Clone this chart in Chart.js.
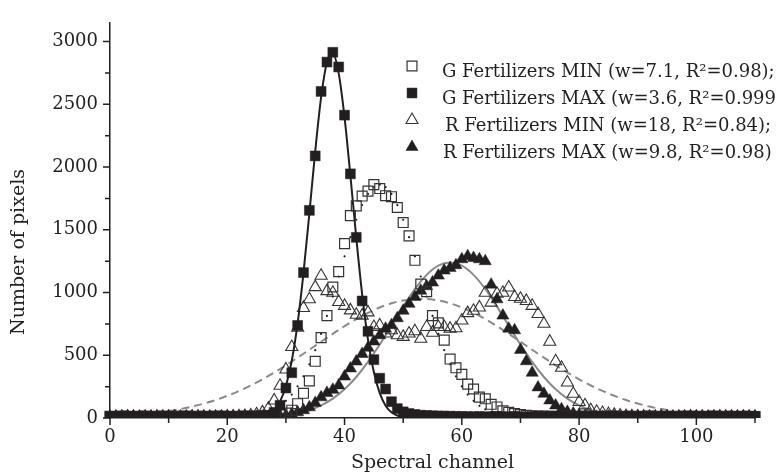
<!DOCTYPE html>
<html>
<head>
<meta charset="utf-8">
<title>Spectral channel histogram</title>
<script src="https://cdn.jsdelivr.net/npm/chart.js@4/dist/chart.umd.min.js"></script>
<style>
  html, body { margin: 0; padding: 0; background: #fff; }
  #chart { display: block; }
</style>
</head>
<body>
<canvas id="chart" width="781" height="475"></canvas>
<script>
// ── Data ──────────────────────────────────────────────────────────────────────
// Pixel counts per spectral channel (0..110)
const channels = Array.from({ length: 111 }, (_, i) => i);

const gMinCounts = [
    14, 12, 15, 13, 12, 14, 16, 12, 13, 15,
    12, 14, 13, 15, 12, 14, 13, 12, 15, 14,
    13, 12, 14, 15, 13, 16, 18, 20, 25, 30,
    40, 62, 114, 197, 296, 452, 641, 816, 1044, 1167,
    1390, 1613, 1691, 1769, 1808, 1860, 1829, 1772, 1764, 1678,
    1558, 1452, 1257, 1068, 1007, 816, 758, 621, 470, 400,
    348, 270, 231, 166, 153, 109, 88, 57, 45, 35,
    28, 22, 18, 16, 15, 14, 13, 12, 14, 13,
    12, 15, 13, 12, 14, 13, 15, 12, 14, 13,
    12, 14, 15, 13, 12, 14, 13, 12, 15, 13,
    14, 12, 13, 15, 12, 14, 13, 12, 14, 13,
    12
];

const gMaxCounts = [
    12, 10, 8, 10, 12, 9, 10, 11, 8, 10,
    12, 10, 9, 11, 10, 8, 10, 12, 9, 10,
    11, 10, 9, 12, 10, 11,
    15, 20, 45, 101, 239, 361, 738, 1159, 1655, 2089,
    2603, 2837, 2915, 2798, 2414, 1946, 1440, 933, 691, 465,
    317, 231, 130, 75, 49, 36, 28, 22, 20, 18,
    16, 15, 14, 13, 12, 11, 10, 12, 9, 10,
    11, 10, 9, 12, 10, 8, 10, 11, 9, 10,
    12, 10, 9, 11, 10, 8, 10, 12, 9, 10,
    11, 10, 9, 12, 10, 11, 10, 8, 10, 12,
    9, 10, 11, 10, 9, 12, 10, 11, 10, 8,
    10, 12, 9, 10, 11
];

const rMinCounts = [
    8, 10, 9, 11, 10, 8, 9, 10, 11, 9,
    10, 9, 8, 10, 11, 9, 10, 8, 9, 10,
    11, 12, 14, 16, 20, 30, 45, 75, 140, 257,
    387, 566, 720, 877, 946, 1043, 1134, 1011, 998, 925,
    894, 858, 823, 816, 842, 725, 738, 673, 699, 660,
    647, 673, 692, 632, 725, 680, 725, 725, 712, 715,
    777, 836, 855, 881, 998, 920, 990, 998, 1040, 965,
    950, 933, 894, 829, 751, 608, 452, 400, 283, 193,
    127, 101, 62, 50, 40, 32, 25, 20, 16, 14,
    12, 11, 10, 9, 11, 10, 8, 10, 9, 11,
    10, 9, 8, 10, 11, 9, 10, 8, 9, 10,
    9
];

const rMaxCounts = [
    10, 8, 9, 10, 11, 9, 10, 8, 10, 9,
    11, 10, 9, 8, 10, 11, 9, 10, 8, 9,
    10, 11, 9, 10, 8, 10, 11, 10, 12, 15,
    20, 30, 45, 62, 85, 120, 165, 200, 225, 260,
    330, 395, 450, 510, 560, 610, 660, 712, 740, 795,
    855, 910, 965, 1015, 1050, 1080, 1135, 1175, 1195, 1218,
    1265, 1290, 1275, 1265, 1250, 1063, 946, 816, 712, 699,
    543, 452, 361, 244, 193, 140, 100, 70, 49, 35,
    23, 15, 12, 10, 9, 11, 10, 8, 9, 10,
    11, 9, 10, 8, 10, 11, 9, 10, 8, 9,
    10, 11, 9, 10, 8, 10, 9, 11, 10, 9,
    10
];

// Gaussian fits, sampled along the channel axis
const gMaxFitChannels = [26, 27, 28, 29, 30, 31, 32, 33, 34, 35, 36, 37, 38, 39,
    40, 41, 42, 43, 44, 45, 46, 47, 48, 49, 50, 52, 55];
const gMaxFitCounts = [11, 27, 62, 131, 255, 456, 756, 1157, 1632, 2125, 2555, 2836, 2905, 2747,
    2397, 1931, 1437, 986, 625, 366, 198, 98, 45, 19, 7, 1, 0];

const gMinFitChannels = [28, 29, 30, 31, 32, 33, 34, 35, 36, 37, 38, 39, 40, 41, 42, 43, 44, 45, 46,
    47, 48, 49, 50, 51, 52, 53, 54, 55, 56, 57, 58, 59, 60, 61, 62, 63, 64, 65, 66];
const gMinFitCounts = [68, 97, 137, 187, 252, 332, 428, 541, 670, 814, 968, 1128, 1289, 1441, 1580, 1697, 1786, 1841, 1860,
    1841, 1786, 1697, 1580, 1441, 1289, 1128, 968, 814, 670, 541, 428, 332, 252, 187, 137, 97, 68, 47, 31];

const rMinFitChannels = [10, 12, 14, 16, 18, 20, 22, 24, 26, 28, 30, 32, 34, 36, 38, 40, 42, 44, 46, 48, 50, 52,
    54, 56, 58, 60, 62, 64, 66, 68, 70, 72, 74, 76, 78, 80, 82, 84, 86, 88, 90, 92, 94, 96];
const rMinFitCounts = [55, 71, 91, 115, 143, 177, 216, 259, 308, 362, 420, 481, 544, 608, 671, 732, 788, 838, 881, 914, 937, 948,
    948, 937, 914, 881, 838, 788, 732, 671, 608, 544, 481, 420, 362, 308, 259, 216, 177, 143, 115, 91, 71, 55];

const rMaxFitChannels = [28, 30, 32, 34, 36, 38, 40, 42, 44, 46, 48, 50, 52, 54, 56, 58,
    60, 62, 64, 66, 68, 70, 72, 74, 76, 78, 80, 82, 84, 86, 88];
const rMaxFitCounts = [11, 21, 37, 62, 100, 155, 229, 327, 447, 586, 737, 888, 1028, 1141, 1214, 1240,
    1214, 1141, 1028, 888, 737, 586, 447, 327, 229, 155, 100, 62, 37, 21, 11];

const legendLabels = [
    "G Fertilizers MIN (w=7.1, R\u00b2=0.98);",
    "G Fertilizers MAX (w=3.6, R\u00b2=0.999",
    "R Fertilizers MIN (w=18, R\u00b2=0.84);",
    "R Fertilizers MAX (w=9.8, R\u00b2=0.98)"
];

const yTickStep = 250;
const xTickStep = 10;

// ── Styling ──────────────────────────────────────────────────────────────────
const INK = "#231f20";
const GREY = "#8a8a8a";
const FONT = "'DejaVu Serif', serif";
const FONT_SIZE = 18;

const toPoints = (xs, ys) => xs.map((x, i) => ({ x, y: ys[i] }));

const markerBase = {
    type: "scatter",
    showLine: false,
    pointRadius: 7,
    pointHoverRadius: 7,
    clip: { left: false, top: false, right: false, bottom: 0 },
};

const datasets = [
    {
        ...markerBase,
        label: legendLabels[1],
        data: toPoints(channels, gMaxCounts),
        pointStyle: "rect",
        backgroundColor: INK,
        borderColor: INK,
        pointBorderWidth: 0.5,
    },
    {
        ...markerBase,
        label: legendLabels[0],
        data: toPoints(channels, gMinCounts),
        pointStyle: "rect",
        backgroundColor: "rgba(0,0,0,0)",
        borderColor: "#333",
        pointBorderWidth: 1.2,
    },
    {
        type: "line",
        label: "G MAX fit",
        data: toPoints(gMaxFitChannels, gMaxFitCounts),
        borderColor: INK,
        borderWidth: 2,
        pointRadius: 0,
        cubicInterpolationMode: "monotone",
        fill: false,
    },
    {
        ...markerBase,
        label: "G MIN fit",
        data: toPoints(gMinFitChannels, gMinFitCounts),
        pointStyle: "circle",
        pointRadius: 1.1,
        backgroundColor: INK,
        borderColor: INK,
        pointBorderWidth: 0,
    },
    {
        ...markerBase,
        label: legendLabels[3],
        data: toPoints(channels, rMaxCounts),
        pointStyle: "triangle",
        backgroundColor: INK,
        borderColor: INK,
        pointBorderWidth: 0.5,
    },
    {
        ...markerBase,
        label: legendLabels[2],
        data: toPoints(channels, rMinCounts),
        pointStyle: "triangle",
        backgroundColor: "rgba(0,0,0,0)",
        borderColor: "#333",
        pointBorderWidth: 1.1,
    },
    {
        type: "line",
        label: "R MAX fit",
        data: toPoints(rMaxFitChannels, rMaxFitCounts),
        borderColor: GREY,
        borderWidth: 2,
        pointRadius: 0,
        cubicInterpolationMode: "monotone",
        fill: false,
    },
    {
        type: "line",
        label: "R MIN fit",
        data: toPoints(rMinFitChannels, rMinFitCounts),
        borderColor: GREY,
        borderWidth: 2,
        borderDash: [8, 5],
        pointRadius: 0,
        cubicInterpolationMode: "monotone",
        fill: false,
    },
];

// legend rows: which dataset supplies the marker
const legendOrder = [1, 0, 5, 4];

// ── Plugins ──────────────────────────────────────────────────────────────────
// outward tick marks, longer on labelled ticks, plus the vertical axis title
const tickMarks = {
    id: "tickMarks",
    afterDraw(chart) {
        const { ctx, chartArea, scales: { x, y } } = chart;
        ctx.save();
        ctx.strokeStyle = INK;
        ctx.lineWidth = 1.5;
        ctx.beginPath();
        for (const t of y.ticks) {
            const py = y.getPixelForValue(t.value);
            const len = t.value % 500 === 0 ? 7 : 5;
            ctx.moveTo(chartArea.left - len, py);
            ctx.lineTo(chartArea.left, py);
        }
        for (const t of x.ticks) {
            const px = x.getPixelForValue(t.value);
            const len = t.value % 20 === 0 ? 7 : 5;
            ctx.moveTo(px, chartArea.bottom);
            ctx.lineTo(px, chartArea.bottom + len);
        }
        ctx.stroke();

        ctx.translate(19, 252);
        ctx.rotate(-Math.PI / 2);
        ctx.fillStyle = INK;
        ctx.font = `19px ${FONT}`;
        ctx.textAlign = "center";
        ctx.textBaseline = "middle";
        ctx.fillText("Number of pixels", 0, 0);
        ctx.restore();
    },
};

// legend block in the upper right corner
const markerLegend = {
    id: "markerLegend",
    afterDraw(chart) {
        const { ctx } = chart;
        const rowsY = [66, 93, 120, 147];
        const textX = [442, 442, 445, 443];
        ctx.save();
        legendOrder.forEach((dsIndex, row) => {
            const ds = chart.data.datasets[dsIndex];
            ctx.fillStyle = ds.backgroundColor;
            ctx.strokeStyle = ds.borderColor;
            ctx.lineWidth = ds.pointBorderWidth;
            Chart.helpers.drawPoint(ctx, {
                pointStyle: ds.pointStyle,
                radius: 7,
                rotation: 0,
                borderWidth: ds.pointBorderWidth,
            }, 412, rowsY[row]);
            ctx.fillStyle = INK;
            ctx.font = `${FONT_SIZE}px ${FONT}`;
            ctx.textAlign = "left";
            ctx.textBaseline = "middle";
            ctx.fillText(ds.label, textX[row], rowsY[row] + 6);
        });
        ctx.restore();
    },
};

// ── Chart ────────────────────────────────────────────────────────────────────
Chart.defaults.font.family = FONT;
Chart.defaults.font.size = FONT_SIZE;
Chart.defaults.color = INK;

new Chart(document.getElementById("chart"), {
    type: "scatter",
    data: { datasets },
    options: {
        responsive: false,
        animation: false,
        events: [],
        layout: { padding: { top: 13, right: 26, left: 0, bottom: 0 } },
        plugins: {
            legend: { display: false },
            tooltip: { enabled: false },
        },
        scales: {
            x: {
                type: "linear",
                min: 0,
                max: 110,
                afterFit: (scale) => { scale.height = 57; },
                grid: { display: false, drawTicks: false },
                border: { display: true, color: INK, width: 1.5 },
                ticks: {
                    stepSize: xTickStep,
                    autoSkip: false,
                    maxRotation: 0,
                    padding: 9,
                    callback: (v) => (v % 20 === 0 && v <= 100 ? String(v) : ""),
                },
                title: {
                    display: true,
                    text: "Spectral channel",
                    font: { size: 19 },
                    padding: { top: 0, bottom: 1 },
                },
            },
            y: {
                type: "linear",
                min: 0,
                max: 3150,
                afterFit: (scale) => { scale.width = 110; },
                grid: { display: false, drawTicks: false },
                border: { display: true, color: INK, width: 1.5 },
                ticks: {
                    stepSize: yTickStep,
                    includeBounds: false,
                    autoSkip: false,
                    padding: 12,
                    callback: (v) => (v % 500 === 0 ? String(v) : ""),
                },
            },
        },
    },
    plugins: [tickMarks, markerLegend],
});
</script>
</body>
</html>
